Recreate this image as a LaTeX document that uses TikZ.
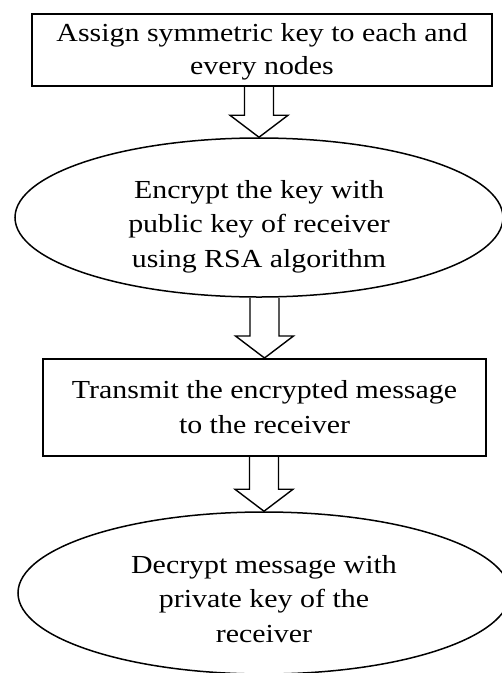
\documentclass[tikz,border=0pt]{standalone}
\usepackage{fontspec}
\setmainfont{Liberation Serif}[FakeStretch=1.15]
\usetikzlibrary{shapes.geometric,calc}

\tikzset{
  steptext/.style={align=center, text=black, font=\fontsize{26}{34.5}\selectfont, inner sep=0pt, text depth=6pt},
  stepbox/.style={steptext, draw, line width=2pt, rectangle},
  stepoval/.style={steptext, draw, line width=1.5pt, ellipse},
  openarrow/.style={draw, line width=1.4pt, line join=miter},
}

% hollow block arrow from the bottom of one node to the top of the next
\newcommand{\flowarrow}[2]{%
  \draw[openarrow] let \p1=(#1.south), \p2=(#2.north) in
    (\x2-14.5pt,\y1) -- (\x2-14.5pt,\y2+22pt) -- (\x2-29pt,\y2+22pt)
    -- (\x2,\y2) -- (\x2+29pt,\y2+22pt) -- (\x2+14.5pt,\y2+22pt)
    -- (\x2+14.5pt,\y1);}

\begin{document}
\begin{tikzpicture}[x=1pt,y=-1pt]
  \useasboundingbox (0,0) rectangle (502,673);
  \clip (0,0) rectangle (502,673);

  \node[stepbox, minimum width=460pt, minimum height=72pt, text height=54pt,
        font=\fontsize{26}{32.5}\selectfont] (assign) at (262,50)
    {Assign symmetric key to each and\\every nodes};
  \node[stepoval, minimum width=488pt, minimum height=159pt, text height=105pt] (encrypt) at (259,217.5)
    {Encrypt the key with\\public key of receiver\\using RSA algorithm};
  \node[stepbox, minimum width=443pt, minimum height=97pt, text height=57pt] (transmit) at (264.5,407.5)
    {Transmit the encrypted message\\to the receiver};
  \node[stepoval, minimum width=492pt, minimum height=162pt, text height=104pt] (decrypt) at (264,593)
    {Decrypt message with\\private key of the\\receiver};

  \flowarrow{assign}{encrypt}
  \flowarrow{encrypt}{transmit}
  \flowarrow{transmit}{decrypt}
\end{tikzpicture}
\end{document}
